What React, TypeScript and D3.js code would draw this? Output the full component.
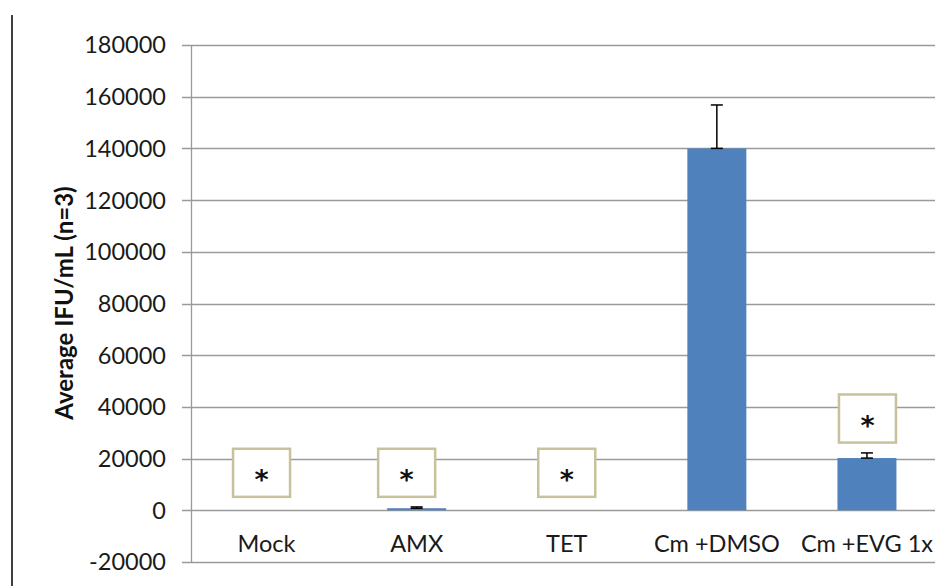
import React from "react";
import * as d3 from "d3";

const categories = ["Mock", "AMX", "TET", "Cm +DMSO", "Cm +EVG 1x"];
const means = [0, 800, 0, 140000, 20200];
const errors = [0, 500, 0, 16800, 2000];
const yTicks = [-20000, 0, 20000, 40000, 60000, 80000, 100000, 120000, 140000, 160000, 180000];

// significance boxes: category, lower value, upper value, small horizontal shift (px)
const starCategories = ["Mock", "AMX", "TET", "Cm +EVG 1x"];
const starLow = [5200, 5200, 5200, 26200];
const starHigh = [23800, 23800, 23800, 44800];
const starShift = [-5, -10, 0, 0.5];

const W = 935;
const H = 586;
const FONT = "Lato, 'Open Sans', sans-serif";

export default function App() {
  const left = 191.5;
  const right = 942;
  const y = d3.scaleLinear().domain([-20000, 180000]).range([562, 45]);
  const x = d3
    .scaleBand<string>()
    .domain(categories)
    .range([left, right])
    .paddingInner(0.607)
    .paddingOuter(0.3035);
  const bw = x.bandwidth();
  const center = (c: string) => (x(c) as number) + bw / 2;

  return (
    <svg
      width={W}
      height={H}
      style={{ position: "absolute", left: 0, top: 0, background: "#fff" }}
    >
      <rect width={W} height={H} fill="#fff" />
      <line x1={12} x2={12} y1={15} y2={H} stroke="#000" strokeWidth={1.5} />
      {/* gridlines + tick marks */}
      {yTicks.map((t) => (
        <g key={t}>
          <line
            x1={182}
            x2={W}
            y1={Math.round(y(t)) + 0.5}
            y2={Math.round(y(t)) + 0.5}
            stroke="#9a9a9a"
            strokeWidth={1.3}
          />
          <text
            x={166}
            y={y(t)}
            dy="0.36em"
            textAnchor="end"
            fontFamily={FONT}
            fontSize={23.5}
            fill="#1a1a1a"
          >
            {t}
          </text>
        </g>
      ))}
      <line x1={left} x2={left} y1={y(180000)} y2={y(-20000)} stroke="#9a9a9a" strokeWidth={1.3} />
      {/* bars */}
      {categories.map((c, i) => (
        <rect
          key={c}
          x={x(c)}
          width={bw}
          y={y(Math.max(0, means[i]))}
          height={Math.abs(y(means[i]) - y(0))}
          fill="#4F81BD"
        />
      ))}
      {/* error bars */}
      {categories.map((c, i) =>
        errors[i] > 0 ? (
          <g key={c} stroke="#000" strokeWidth={1.5}>
            <line x1={center(c)} x2={center(c)} y1={y(means[i])} y2={y(means[i] + errors[i])} />
            <line x1={center(c) - 6} x2={center(c) + 6} y1={y(means[i] + errors[i])} y2={y(means[i] + errors[i])} />
            <line x1={center(c) - 6} x2={center(c) + 6} y1={y(means[i])} y2={y(means[i])} />
          </g>
        ) : null
      )}
      {/* category labels */}
      {categories.map((c) => (
        <text
          key={c}
          x={center(c)}
          y={552}
          textAnchor="middle"
          fontFamily={FONT}
          fontSize={23.5}
          fill="#1a1a1a"
        >
          {c}
        </text>
      ))}
      {/* significance boxes */}
      {starCategories.map((c, i) => {
        const cx = center(c) + starShift[i];
        const y0 = y(starHigh[i]);
        const y1 = y(starLow[i]);
        return (
          <g key={c}>
            <rect
              x={cx - 28.5}
              y={y0}
              width={57}
              height={y1 - y0}
              fill="#fff"
              stroke="#C9C19C"
              strokeWidth={2.5}
            />
            <text
              x={cx}
              y={(y0 + y1) / 2 + 16}
              textAnchor="middle"
              fontFamily="'DejaVu Sans', sans-serif"
              fontWeight="bold"
              fontSize={27}
              fill="#111"
            >
              *
            </text>
          </g>
        );
      })}
      <text
        transform={`translate(65,${303}) rotate(-90)`}
        textAnchor="middle"
        dy="0.35em"
        fontFamily={FONT}
        fontWeight="bold"
        fontSize={24}
        fill="#111"
      >
        Average IFU/mL (n=3)
      </text>
    </svg>
  );
}
